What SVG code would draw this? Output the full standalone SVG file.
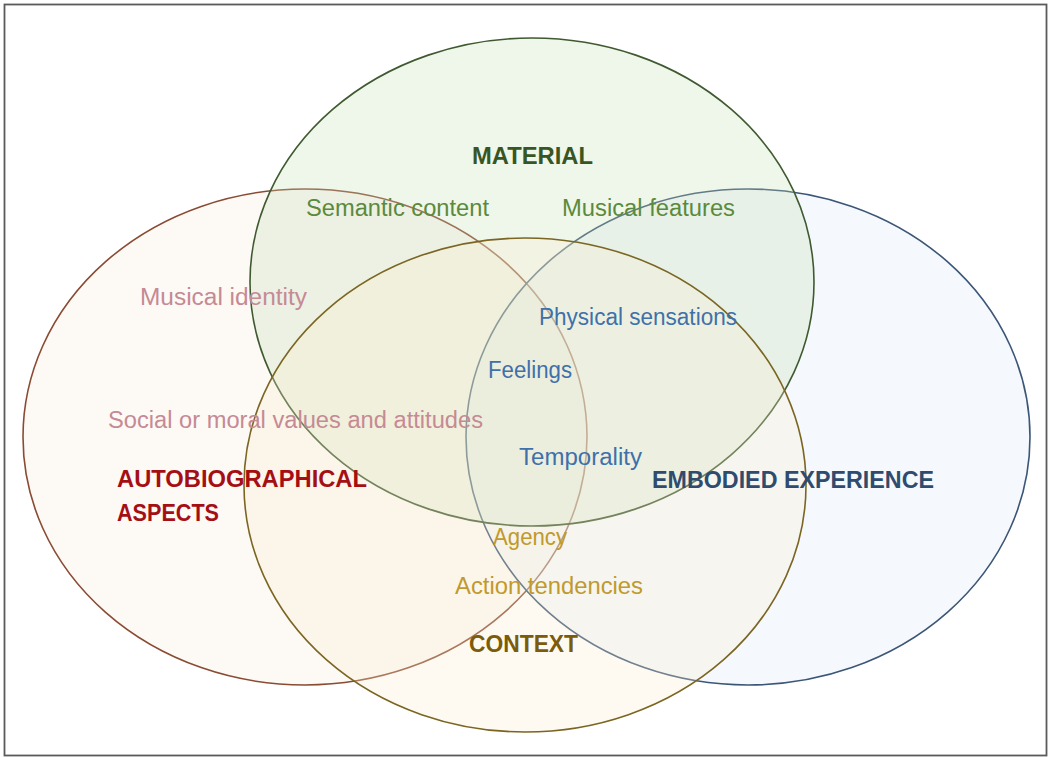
<svg xmlns="http://www.w3.org/2000/svg" width="1049" height="757" viewBox="0 0 1049 757">
<style>
text{font-family:"Liberation Sans",Arial,sans-serif;font-size:23.5px}
.h{font-weight:bold}
.ring{stroke-width:1.6}
</style>
<rect x="0" y="0" width="1049" height="757" fill="#ffffff"/>
<rect x="4.5" y="4.5" width="1042" height="751" fill="none" stroke="#5a5a5a" stroke-width="1.8"/>
<g id="autobiographical">
<ellipse class="ring" cx="305" cy="437" rx="282" ry="248" fill="#f7ebdd" fill-opacity="0.3" stroke="#8a4b33"/>
</g>
<g id="embodied">
<ellipse class="ring" cx="748" cy="437" rx="282" ry="248" fill="#deebf7" fill-opacity="0.3" stroke="#3c5677"/>
</g>
<g id="material">
<ellipse class="ring" cx="532" cy="282" rx="282" ry="244" fill="#c5e0b4" fill-opacity="0.28" stroke="#3f5a30"/>
</g>
<g id="context">
<ellipse class="ring" cx="525" cy="485" rx="281" ry="247" fill="#fbeccb" fill-opacity="0.28" stroke="#7a6622"/>
</g>
<g id="labels">
<text class="h" x="472" y="164" textLength="121" lengthAdjust="spacingAndGlyphs" fill="#375623">MATERIAL</text>
<text x="306" y="216" textLength="183" lengthAdjust="spacingAndGlyphs" fill="#5b8a3c">Semantic content</text>
<text x="562" y="216" textLength="173" lengthAdjust="spacingAndGlyphs" fill="#5b8a3c">Musical features</text>
<text x="140" y="305" textLength="167" lengthAdjust="spacingAndGlyphs" fill="#c58a94">Musical identity</text>
<text x="539" y="325" textLength="198" lengthAdjust="spacingAndGlyphs" fill="#3f70aa">Physical sensations</text>
<text x="488" y="378" textLength="84" lengthAdjust="spacingAndGlyphs" fill="#3f70aa">Feelings</text>
<text x="108" y="428" textLength="375" lengthAdjust="spacingAndGlyphs" fill="#c58a94">Social or moral values and attitudes</text>
<text x="519" y="465" textLength="123" lengthAdjust="spacingAndGlyphs" fill="#3f70aa">Temporality</text>
<text class="h" x="117" y="487" textLength="250" lengthAdjust="spacingAndGlyphs" fill="#a50f14">AUTOBIOGRAPHICAL</text>
<text class="h" x="117" y="521" textLength="102" lengthAdjust="spacingAndGlyphs" fill="#a50f14">ASPECTS</text>
<text class="h" x="652" y="488" textLength="282" lengthAdjust="spacingAndGlyphs" fill="#2f4b6e">EMBODIED EXPERIENCE</text>
<text x="493" y="545" textLength="74" lengthAdjust="spacingAndGlyphs" fill="#c09a2c">Agency</text>
<text x="455" y="594" textLength="188" lengthAdjust="spacingAndGlyphs" fill="#c09a2c">Action tendencies</text>
<text class="h" x="469" y="652" textLength="109" lengthAdjust="spacingAndGlyphs" fill="#7a5c0a">CONTEXT</text>
</g>
</svg>
